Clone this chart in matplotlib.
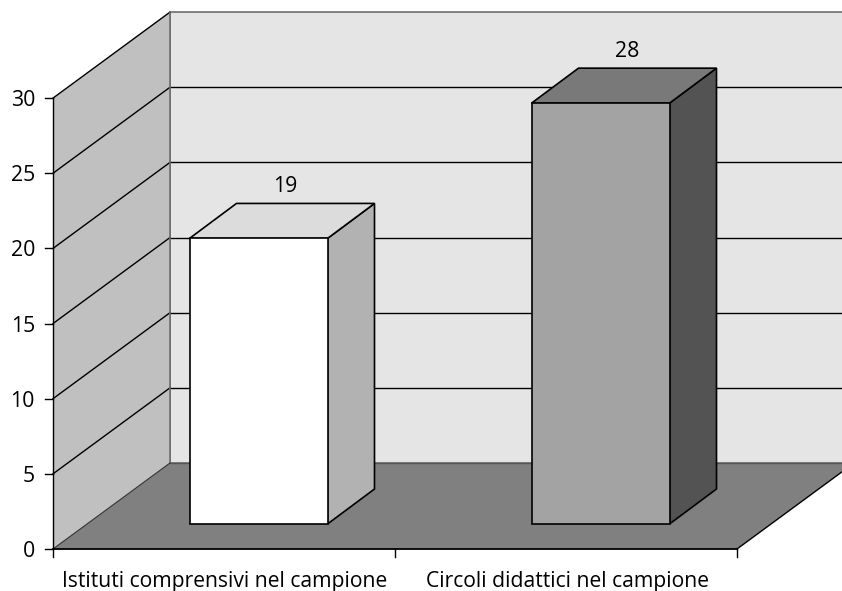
import matplotlib
matplotlib.use("Agg")
import matplotlib.pyplot as plt
from matplotlib.patches import Polygon

# Chart data
categories = ["Istituti comprensivi nel campione", "Circoli didattici nel campione"]
values = [19, 28]
bar_faces = ["#ffffff", "#a3a3a3"]
bar_tops = ["#dcdcdc", "#797979"]
bar_sides = ["#b2b2b2", "#535353"]
yticks = [0, 5, 10, 15, 20, 25, 30]

W, H = 842, 591
X0, Y0 = 53, 549      # chart origin in pixels
XUNIT = 342           # pixels per category
YUNIT = 15.03         # pixels per value unit
DX = 117 / XUNIT      # depth of the box
DY = 86 / YUNIT
BAR_W = 138 / XUNIT
BAR_DX = 47 / XUNIT   # depth of a bar
BAR_DY = 35 / YUNIT
BAR_OFF_X = 34 / XUNIT  # bars stand a bit inside the floor
BAR_OFF_Y = 25 / YUNIT

plt.rcParams['font.family'] = ['Open Sans', 'DejaVu Sans']
fig = plt.figure(figsize=(W / 100, H / 100), dpi=100)
ax = fig.add_axes([0, 0, 1, 1])
ax.set_xlim(-X0 / XUNIT, (W - X0) / XUNIT)
ax.set_ylim(-(H - Y0) / YUNIT, Y0 / YUNIT)
ax.axis("off")

n = len(categories)
top = yticks[-1]


def poly(pts, face, edge="black", lw=1.2, z=1):
    ax.add_patch(Polygon(pts, closed=True, facecolor=face, edgecolor=edge,
                         linewidth=lw, zorder=z, joinstyle="miter"))


# walls and floor
poly([(DX, 0 + DY), (n + DX, DY), (n + DX, top + DY), (DX, top + DY)], "#e5e5e5", "#6e6e6e", 1.2, 1)
poly([(0, 0), (DX, DY), (DX, top + DY), (0, top)], "#c0c0c0", "none", 0, 1)
poly([(0, 0), (n, 0), (n + DX, DY), (DX, DY)], "#808080", "none", 0, 2)

# gridlines on back and side wall
for t in yticks[1:]:
    ax.plot([0, DX], [t, t + DY], color="black", lw=1.0, zorder=3)
    if t < top:
        ax.plot([DX, n + DX], [t + DY, t + DY], color="black", lw=1.0, zorder=3)
ax.plot([DX, DX], [DY, top + DY], color="#6e6e6e", lw=1.2, zorder=3)
ax.plot([DX, n + DX], [DY, DY], color="#555555", lw=1.0, zorder=3)
ax.plot([0, DX], [0, DY], color="#333333", lw=0.8, zorder=3)
ax.plot([n, n + DX], [0, DY], color="black", lw=1.0, zorder=3)

# axis lines and ticks
ax.plot([0, 0], [0, top], color="black", lw=1.0, zorder=4)
ax.plot([0, n], [0, 0], color="black", lw=1.3, zorder=4)
for t in yticks:
    ax.plot([-8 / XUNIT, 0], [t, t], color="black", lw=1.0, zorder=4)
    ax.text(-18 / XUNIT, t, str(t), ha="right", va="center_baseline",
            fontsize=15.3, color="black")
for i in range(n + 1):
    ax.plot([i, i], [0, -8 / YUNIT], color="black", lw=1.0, zorder=4)
for i, cat in enumerate(categories):
    ax.text(i + 0.5 + (i + 1) * 1 / XUNIT, -(581 - Y0) / YUNIT, cat, ha="center", va="center",
            fontsize=15.2, color="black")

# bars
for i, v in enumerate(values):
    x1 = i + 0.5 - 137 / XUNIT / 2 + BAR_OFF_X
    x2 = x1 + BAR_W
    b = BAR_OFF_Y
    t = b + v
    poly([(x2, b), (x2 + BAR_DX, b + BAR_DY), (x2 + BAR_DX, t + BAR_DY), (x2, t)], bar_sides[i], z=5)
    poly([(x1, t), (x2, t), (x2 + BAR_DX, t + BAR_DY), (x1 + BAR_DX, t + BAR_DY)], bar_tops[i], z=5)
    poly([(x1, b), (x2, b), (x2, t), (x1, t)], bar_faces[i], z=6)
    ax.text((x1 + x2 + BAR_DX) / 2 + 3 / XUNIT, t + BAR_DY + 17 / YUNIT, str(v),
            ha="center", va="center", fontsize=15.3, color="black", zorder=7)

fig.savefig("out.png", dpi=100)
